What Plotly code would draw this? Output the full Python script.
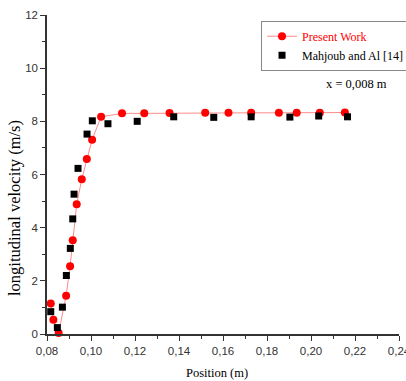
import plotly.graph_objects as go

present_x = [0.0817, 0.0829, 0.0853, 0.0887, 0.0905, 0.0917, 0.0935, 0.0958, 0.0981, 0.1005,
             0.1046, 0.1141, 0.1242, 0.1357, 0.1519, 0.1625, 0.1728, 0.1854, 0.1935, 0.2040, 0.2154]
present_y = [1.15, 0.54, 0.04, 1.44, 2.55, 3.53, 4.88, 5.82, 6.58, 7.31,
             8.17, 8.30, 8.30, 8.31, 8.32, 8.32, 8.32, 8.32, 8.32, 8.32, 8.33]

mahjoub_x = [0.0817, 0.0847, 0.0870, 0.0888, 0.0906, 0.0917, 0.0923, 0.0941, 0.0982, 0.1006,
             0.1077, 0.1210, 0.1376, 0.1558, 0.1728, 0.1904, 0.2035, 0.2166]
mahjoub_y = [0.84, 0.24, 1.01, 2.20, 3.22, 4.33, 5.26, 6.23, 7.52, 8.02,
             7.91, 8.00, 8.17, 8.15, 8.17, 8.16, 8.20, 8.17]

x_ticks = [0.08, 0.10, 0.12, 0.14, 0.16, 0.18, 0.20, 0.22, 0.24]
y_ticks = [0, 2, 4, 6, 8, 10, 12]

SERIF = "Liberation Serif, Times New Roman, serif"
SANS = "Liberation Sans, Arial, sans-serif"

fig = go.Figure()
fig.add_trace(go.Scatter(
    x=present_x, y=present_y, mode="lines+markers",
    name="<span style='color:#ff0000'>Present Work</span>",
    line=dict(color="#ff8a8a", width=1),
    marker=dict(symbol="circle", size=8, color="#ff0000"),
    cliponaxis=False,
))
fig.add_trace(go.Scatter(
    x=mahjoub_x, y=mahjoub_y, mode="markers",
    name="Mahjoub and Al [14]",
    marker=dict(symbol="square", size=7, color="#000000"),
    cliponaxis=False,
))

axis_common = dict(
    showline=True, linecolor="#333333", linewidth=1.5,
    ticks="outside", ticklen=5, tickwidth=1.2, tickcolor="#333333",
    showgrid=False, zeroline=False, mirror=False, automargin=False,
    ticklabeloverflow="allow",
    tickfont=dict(family=SANS, size=11.5, color="#333333"),
)

fig.update_xaxes(
    range=[0.08, 0.24], tickvals=x_ticks, tickformat=".2f",
    minor=dict(ticks="outside", ticklen=3, dtick=0.01, tickcolor="#333333"),
    **axis_common,
)
fig.update_yaxes(
    range=[0, 12], tickvals=y_ticks,
    minor=dict(ticks="outside", ticklen=3, dtick=1, tickcolor="#333333"),
    **axis_common,
)

fig.add_annotation(
    x=0.483, y=-0.122, xref="paper", yref="paper", showarrow=False,
    text="Position (m)", xanchor="center", yanchor="middle",
    font=dict(family=SERIF, size=12.5, color="#000000"),
)
fig.add_annotation(
    x=-0.091, y=0.395, xref="paper", yref="paper", showarrow=False,
    text="longitudinal velocity (m/s)", textangle=-90,
    xanchor="center", yanchor="middle",
    font=dict(family=SERIF, size=16.5, color="#000000"),
)
fig.add_annotation(
    x=0.879, y=0.784, xref="paper", yref="paper", showarrow=False,
    text="x = 0,008 m", xanchor="center", yanchor="middle",
    font=dict(family=SERIF, size=12.5, color="#000000"),
)

fig.update_layout(
    width=406, height=381,
    autosize=False,
    margin=dict(l=47, r=7, t=15, b=47, pad=0, autoexpand=False),
    paper_bgcolor="white", plot_bgcolor="white",
    separators=", ",
    showlegend=True,
    legend=dict(
        x=0.608, y=0.982, xanchor="left", yanchor="top",
        bgcolor="white", bordercolor="#888888", borderwidth=1,
        font=dict(family=SERIF, size=12, color="#000000"),
        itemwidth=30, tracegroupgap=0,
    ),
)

fig.write_html(
    "out.html",
    config={"responsive": False, "displayModeBar": False},
    post_script=(
        "document.documentElement.style.margin='0';"
        "document.body.style.margin='0';document.body.style.padding='0';"
        "document.body.style.overflow='hidden';"
    ),
)
